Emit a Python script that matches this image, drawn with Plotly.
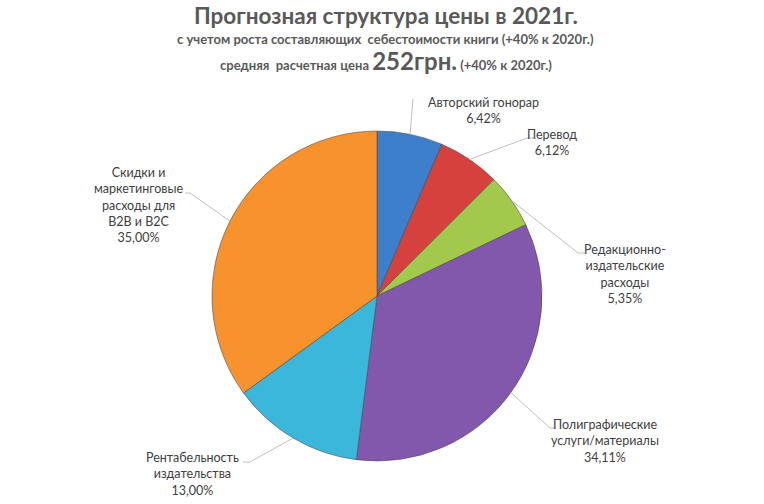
import math
import plotly.graph_objects as go

# ---- data ----
labels = [
    "Авторский гонорар",
    "Перевод",
    "Редакционно-издательские расходы",
    "Полиграфические услуги/материалы",
    "Рентабельность издательства",
    "Скидки и маркетинговые расходы для B2B и B2C",
]
label_lines = [
    ["Авторский гонорар"],
    ["Перевод"],
    ["Редакционно-", "издательские", "расходы"],
    ["Полиграфические", "услуги/материалы"],
    ["Рентабельность", "издательства"],
    ["Скидки и", "маркетинговые", "расходы для", "B2B и B2C"],
]
values = [6.42, 6.12, 5.35, 34.11, 13.00, 35.00]
colors = ["#3E7FCB", "#D6403D", "#A2C94B", "#8258AC", "#3BB7DC", "#F7922C"]

# ---- layout constants (pixels) ----
W, H = 764, 504
CX, CY, R = 377, 296, 165
# label block centres and leader-line attach points (label side), pixels
label_pos = [(483, 110), (552, 142), (625, 274), (605, 441), (193, 474), (138, 205)]
attach = [[(413, 99)], [(535, 138), (527, 138)], [(585, 253), (578, 253)],
          [(556, 428), (550, 428)], [(243, 462), (250, 462)], [(185, 193), (190, 193)]]

def px(x):
    return x / W

def py(y):
    return 1 - y / H

fig = go.Figure(go.Pie(
    labels=labels, values=values, sort=False, direction="clockwise", rotation=0,
    marker=dict(colors=colors, line=dict(color="rgba(70,70,70,0.55)", width=1)),
    textinfo="none", hoverinfo="label+percent", showlegend=False,
    domain=dict(x=[px(CX - R), px(CX + R)], y=[py(CY + R), py(CY - R)]),
))

total = sum(values)
shapes = []
annotations = []
cum = 0.0
for i, v in enumerate(values):
    mid = (cum + v / 2) / total * 2 * math.pi
    cum += v
    ex = CX + R * math.sin(mid)
    ey = CY - R * math.cos(mid)
    pts = attach[i] + [(ex, ey)]
    for (x0, y0), (x1, y1) in zip(pts[:-1], pts[1:]):
        shapes.append(dict(type="line", xref="paper", yref="paper",
                           x0=px(x0), y0=py(y0), x1=px(x1), y1=py(y1),
                           line=dict(color="#BFBFBF", width=1)))
    pct = f"{v / total * 100:.2f}%".replace(".", ",")
    text = "<br>".join(label_lines[i] + [pct])
    lx, ly = label_pos[i]
    annotations.append(dict(x=px(lx), y=py(ly), xref="paper", yref="paper",
                            text=text, showarrow=False, xanchor="center", yanchor="middle",
                            align="center", font=dict(size=12.5, color="#404040")))

title_color = "#595959"
annotations += [
    dict(x=px(386), y=py(15), xref="paper", yref="paper", showarrow=False,
         text="<b>Прогнозная структура цены в 2021г.</b>",
         font=dict(size=22.5, color=title_color), xanchor="center", yanchor="middle"),
    dict(x=px(386), y=py(39), xref="paper", yref="paper", showarrow=False,
         text="<b>с учетом роста составляющих  себестоимости книги (+40% к 2020г.)</b>",
         font=dict(size=13, color=title_color), xanchor="center", yanchor="middle"),
    dict(x=px(386), y=py(60), xref="paper", yref="paper", showarrow=False,
         text="<b>средняя  расчетная цена <span style='font-size:24px'>252грн.</span> (+40% к 2020г.)</b>",
         font=dict(size=13, color=title_color), xanchor="center", yanchor="middle"),
]

fig.update_layout(
    width=W, height=H, margin=dict(l=0, r=0, t=0, b=0),
    paper_bgcolor="white", plot_bgcolor="white",
    font=dict(family="Lato, Open Sans, sans-serif", color="#404040"),
    shapes=shapes, annotations=annotations,
)
fig.write_html("out.html", config={"displayModeBar": False},
               post_script="document.body.style.margin='0';")
